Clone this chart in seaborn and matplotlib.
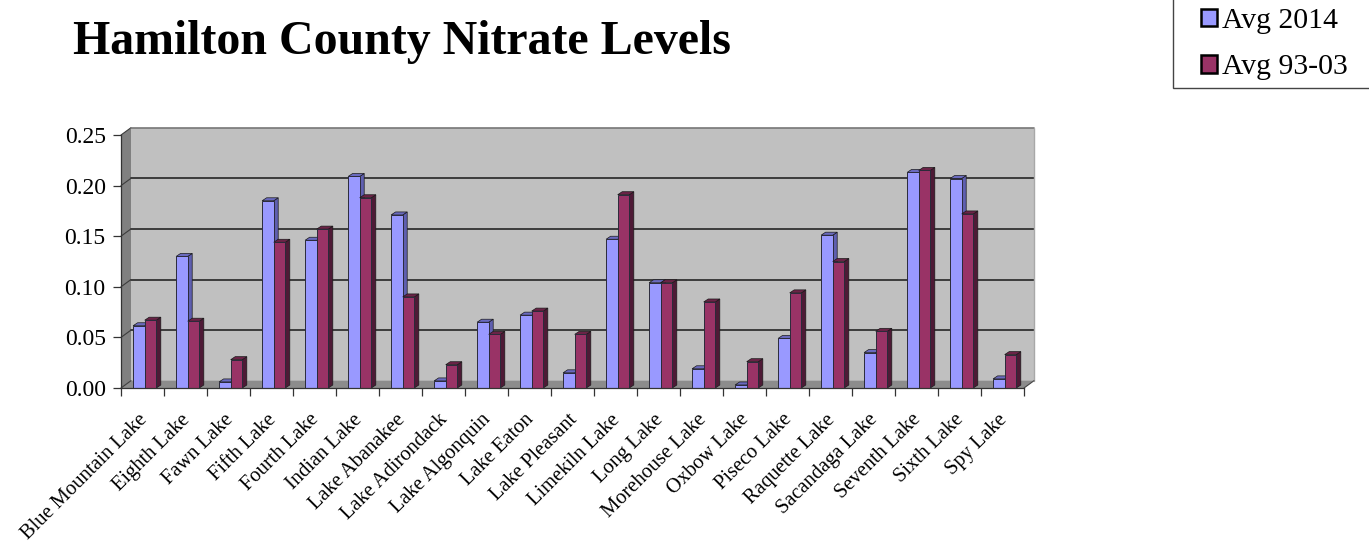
import numpy as np
import pandas as pd
import matplotlib
matplotlib.use("Agg")
import matplotlib.pyplot as plt
from matplotlib.patches import Polygon, Rectangle
from matplotlib.transforms import ScaledTranslation
import seaborn as sns

# --- DATA ---
LAKES = ["Blue Mountain Lake", "Eighth Lake", "Fawn Lake", "Fifth Lake", "Fourth Lake",
         "Indian Lake", "Lake Abanakee", "Lake Adirondack", "Lake Algonquin", "Lake Eaton",
         "Lake Pleasant", "Limekiln Lake", "Long Lake", "Morehouse Lake", "Oxbow Lake",
         "Piseco Lake", "Raquette Lake", "Sacandaga Lake", "Seventh Lake", "Sixth Lake", "Spy Lake"]
AVG_2014 = [0.0615, 0.130, 0.006, 0.185, 0.146, 0.209, 0.171, 0.007, 0.065, 0.072, 0.015,
            0.147, 0.104, 0.019, 0.003, 0.049, 0.151, 0.035, 0.213, 0.207, 0.009]
AVG_93_03 = [0.067, 0.066, 0.028, 0.144, 0.157, 0.188, 0.090, 0.023, 0.053, 0.076, 0.053,
             0.191, 0.104, 0.085, 0.026, 0.094, 0.125, 0.056, 0.215, 0.172, 0.033]
Y_TICKS = [0.00, 0.05, 0.10, 0.15, 0.20, 0.25]

# --- CONFIGURATION ---
W, H = 1369, 542
LEFT, RIGHT, BASE, TOP = 121, 1024, 388, 135  # plot box in pixels
BLUE, RED = "#9999FF", "#993366"
BLUE_SIDE, BLUE_TOP = "#5F5FB0", "#6A6ABF"
RED_SIDE, RED_TOP = "#4E1A36", "#6B2347"

sns.set_theme(style="white")
plt.rcParams["font.family"] = ["Liberation Serif", "DejaVu Serif"]

df = pd.DataFrame({
    "lake": LAKES * 2,
    "value": AVG_2014 + AVG_93_03,
    "series": ["Avg 2014"] * len(LAKES) + ["Avg 93-03"] * len(LAKES),
})

fig = plt.figure(figsize=(W / 100, H / 100), dpi=100)
ax = fig.add_axes([LEFT / W, 1 - BASE / H, (RIGHT - LEFT) / W, (BASE - TOP) / H])
ax.patch.set_alpha(0)

sns.barplot(data=df, x="lake", y="value", hue="series", palette=[BLUE, RED], saturation=1,
            width=0.54, gap=0, errorbar=None, ax=ax)

x0, x1 = -0.5, len(LAKES) - 0.5
ax.set_xlim(x0, x1)
ax.set_ylim(0, 0.25)
px_x = (x1 - x0) / (RIGHT - LEFT)
px_y = 0.25 / (BASE - TOP)
DX, DY = 10 * px_x, 7.3 * px_y    # depth of the walls
BDX, BDY = 4.5 * px_x, 3 * px_y   # depth of the bars
SHIFT = 2.2 * px_x


def add_poly(points, color, z, edge="none", lw=0):
    ax.add_patch(Polygon(points, closed=True, facecolor=color, edgecolor=edge, linewidth=lw,
                         zorder=z, clip_on=False))


# --- WALLS ---
top_y = Y_TICKS[-1]
add_poly([(x0 + DX, DY), (x1 + DX, DY), (x1 + DX, top_y + DY), (x0 + DX, top_y + DY)], "#C0C0C0", 0.5)
add_poly([(x0, 0), (x0 + DX, DY), (x0 + DX, top_y + DY), (x0, top_y)], "#808080", 0.6)
add_poly([(x0, 0), (x1, 0), (x1 + DX, DY), (x0 + DX, DY)], "#8C8C8C", 0.6)
for v in Y_TICKS[1:-1]:
    ax.plot([x0 + DX, x1 + DX], [v + DY, v + DY], color="#3C3C3C", lw=1.4, zorder=0.8, clip_on=False)
for v in Y_TICKS:
    ax.plot([x0, x0 + DX], [v, v + DY], color="#3C3C3C", lw=0.8, zorder=0.8, clip_on=False)
ax.plot([x0 + DX, x1 + DX], [top_y + DY] * 2, color="#777777", lw=1.2, zorder=0.8, clip_on=False)
ax.plot([x1 + DX, x1 + DX], [DY, top_y + DY], color="#A8A8A8", lw=1.0, zorder=0.8, clip_on=False)
ax.plot([x1, x1 + DX], [0, DY], color="#444444", lw=0.8, zorder=0.8, clip_on=False)

# --- 3D BAR FACES ---
styles = [(BLUE_SIDE, BLUE_TOP, 3), (RED_SIDE, RED_TOP, 5)]
for container, (side, cap, z) in zip(ax.containers, styles):
    for bar in container:
        bar.set_x(bar.get_x() + SHIFT)
        bar.set(edgecolor="#2A2A3A", linewidth=0.7, zorder=z + 1)
        xa, w, h = bar.get_x(), bar.get_width(), bar.get_height()
        add_poly([(xa + w, 0), (xa + w + BDX, BDY), (xa + w + BDX, h + BDY), (xa + w, h)], side, z, "#1A1A1A", 0.5)
        add_poly([(xa, h), (xa + w, h), (xa + w + BDX, h + BDY), (xa + BDX, h + BDY)], cap, z, "#1A1A1A", 0.5)

# --- AXES ---
for name in ["top", "right"]:
    ax.spines[name].set_visible(False)
for name in ["left", "bottom"]:
    ax.spines[name].set(color="#333333", linewidth=0.9, zorder=7)
ax.set_xlabel("")
ax.set_ylabel("")
ax.set_yticks(Y_TICKS)
ax.set_yticklabels([f"{v:.2f}" for v in Y_TICKS], fontsize=17, color="black")
ax.tick_params(axis="y", left=True, length=6, width=0.9, color="#333333", pad=5)
ax.set_xticks(np.arange(len(LAKES) + 1) - 0.5, minor=True)
ax.tick_params(axis="x", which="minor", bottom=True, length=6, width=0.9, color="#333333")
ax.set_xticks(range(len(LAKES)))
ax.set_xticklabels(LAKES, rotation=45, ha="right", rotation_mode="anchor", fontsize=14.8, color="black")
ax.tick_params(axis="x", which="major", bottom=False, pad=10)
nudge = ScaledTranslation(-5 / 100, 0, fig.dpi_scale_trans)
for label in ax.get_xticklabels():
    label.set_transform(label.get_transform() + nudge)

# --- LEGEND AND TITLE ---
fig.add_artist(Rectangle((1173 / W, 1 - 88 / H), 0.2, 0.2, transform=fig.transFigure,
                         facecolor="white", edgecolor="#444444", linewidth=1, zorder=-1))
leg = ax.legend(loc="upper left", bbox_to_anchor=(1201 / W, 1 - 8 / H), bbox_transform=fig.transFigure,
                frameon=False, fontsize=21.4, labelcolor="black", handlelength=0.55, handleheight=0.55,
                handletextpad=0.15, labelspacing=0.68, borderpad=0, borderaxespad=0, title=None)
leg.set_zorder(10)
for handle in leg.legend_handles:
    handle.set(edgecolor="black", linewidth=1.8)

fig.text(73 / W, 1 - 54 / H, "Hamilton County Nitrate Levels", fontsize=34.5, fontweight="bold",
         color="black", ha="left", va="baseline")

fig.savefig("out.png", dpi=100)
